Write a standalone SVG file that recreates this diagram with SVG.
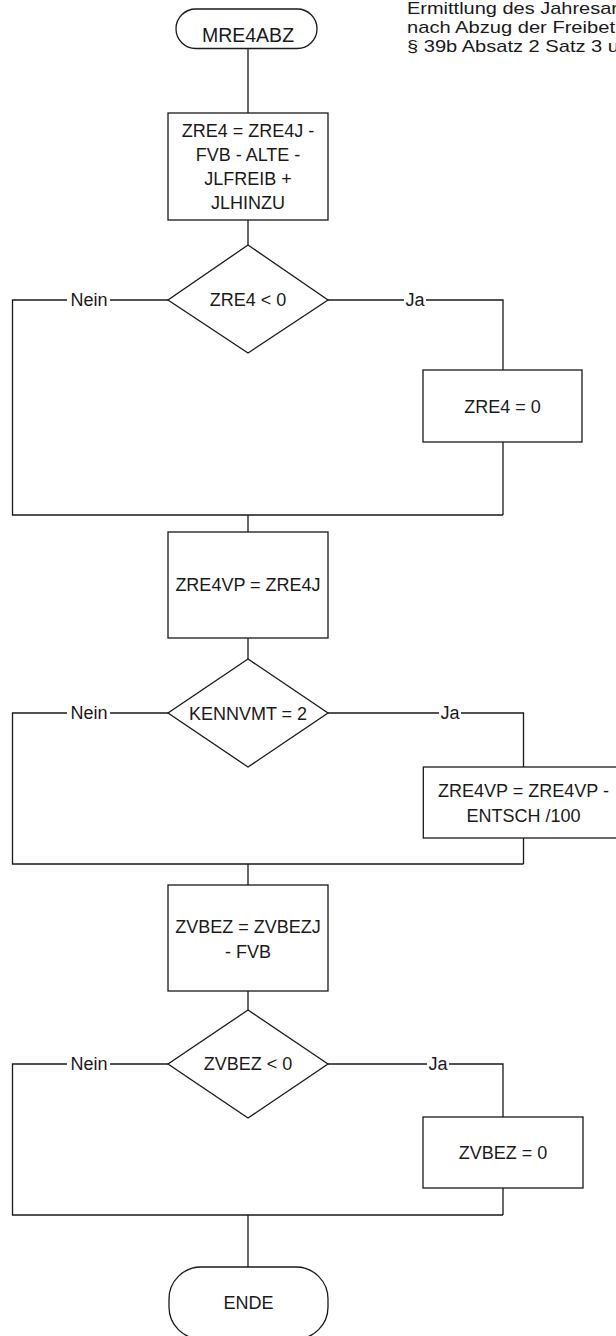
<svg xmlns="http://www.w3.org/2000/svg" width="616" height="1336" viewBox="0 0 616 1336">
<style>
.s{fill:#fff;stroke:#1a1a1a;stroke-width:1.3}
.c{fill:none;stroke:#1a1a1a;stroke-width:1.3}
text{font-family:"Liberation Sans",Arial,sans-serif;fill:#1a1a1a;font-size:18px}
.m{text-anchor:middle}
.d{font-size:17px}
.t{font-size:19.5px}
</style>
<rect width="616" height="1336" fill="#fff"/>
<g id="note">
<text class="d" x="407" y="14" textLength="211" lengthAdjust="spacingAndGlyphs">Ermittlung des Jahresar</text>
<text class="d" x="407" y="32.75" textLength="208" lengthAdjust="spacingAndGlyphs">nach Abzug der Freibet</text>
<text class="d" x="407" y="51.5" textLength="212" lengthAdjust="spacingAndGlyphs">§ 39b Absatz 2 Satz 3 u</text>
</g>
<g id="connectors">
<path class="c" d="M248 48.5V113M248 220V245"/>
<path class="c" d="M168 300H110M67 300H12.5V515H503M328 300H404M426 300H503V370M503 442V515"/>
<path class="c" d="M248 515V532M248 638V659"/>
<path class="c" d="M168 713H110M67 713H12.5V864H523.5M328 713H439M461 713H523.5V767M523.5 838V864"/>
<path class="c" d="M248 864V885M248 991V1010"/>
<path class="c" d="M168 1064H110M67 1064H12.5V1215H503M328 1064H427M449 1064H503V1117M503 1188V1215"/>
<path class="c" d="M248 1215V1267"/>
<text class="m" x="89" y="306">Nein</text>
<text class="m" x="415" y="306">Ja</text>
<text class="m" x="89" y="719">Nein</text>
<text class="m" x="450" y="719">Ja</text>
<text class="m" x="89" y="1070">Nein</text>
<text class="m" x="438" y="1070">Ja</text>
</g>
<g id="start">
<rect class="s" x="176" y="9" width="141" height="39.5" rx="19.75"/>
<text class="m t" x="248" y="41.5">MRE4ABZ</text>
</g>
<g id="box1">
<rect class="s" x="168" y="113" width="160" height="107"/>
<text class="m" x="248" y="137">ZRE4 = ZRE4J -</text>
<text class="m" x="248" y="161">FVB - ALTE -</text>
<text class="m" x="248" y="185">JLFREIB  +</text>
<text class="m" x="248" y="209">JLHINZU</text>
</g>
<g id="dec1">
<polygon class="s" points="248,245 328,300 248,353 168,300"/>
<text class="m" x="248" y="306">ZRE4 &lt; 0</text>
</g>
<g id="box2">
<rect class="s" x="423" y="370" width="159" height="72"/>
<text class="m" x="502.5" y="412.5">ZRE4 = 0</text>
</g>
<g id="box3">
<rect class="s" x="168" y="532" width="160" height="106"/>
<text class="m" x="248" y="591">ZRE4VP = ZRE4J</text>
</g>
<g id="dec2">
<polygon class="s" points="248,659 328,713 248,767 168,713"/>
<text class="m" x="248" y="719.5">KENNVMT = 2</text>
</g>
<g id="box4">
<rect class="s" x="423.3" y="767" width="200.4" height="71"/>
<text class="m" x="523.5" y="796.5">ZRE4VP = ZRE4VP -</text>
<text class="m" x="523.5" y="821.5">ENTSCH /100</text>
</g>
<g id="box5">
<rect class="s" x="168" y="885" width="160" height="106"/>
<text class="m" x="248" y="933">ZVBEZ = ZVBEZJ</text>
<text class="m" x="248" y="958">- FVB</text>
</g>
<g id="dec3">
<polygon class="s" points="248,1010 328,1064 248,1118 168,1064"/>
<text class="m" x="248" y="1070">ZVBEZ &lt; 0</text>
</g>
<g id="box6">
<rect class="s" x="423" y="1117" width="160" height="71"/>
<text class="m" x="503" y="1159">ZVBEZ = 0</text>
</g>
<g id="end">
<rect class="s" x="169" y="1267" width="159" height="72" rx="32" ry="32"/>
<text class="m" x="248.5" y="1309">ENDE</text>
</g>
</svg>
